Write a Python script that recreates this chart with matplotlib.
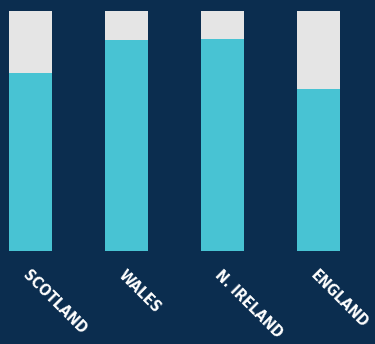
import matplotlib
matplotlib.use("Agg")
import matplotlib.pyplot as plt

countries = ["SCOTLAND", "WALES", "N. IRELAND", "ENGLAND"]
share = [74, 88, 88.3, 67.5]
rest = [100 - s for s in share]

bg = "#0b2d4f"
cyan = "#48c3d3"
grey = "#e5e5e5"

fig = plt.figure(figsize=(3.75, 3.44), dpi=100, facecolor=bg)
ax = fig.add_axes([0, 0.271, 1, 0.697])
ax.set_facecolor(bg)

x = range(len(countries))
ax.bar(x, share, width=0.45, color=cyan)
ax.bar(x, rest, bottom=share, width=0.45, color=grey)

ax.set_xlim(-0.318, 3.588)
ax.set_ylim(0, 100)
ax.set_yticks([])
ax.set_xticks(list(x))
ax.set_xticklabels(countries, rotation=-45, ha="left", va="top",
                   rotation_mode="anchor", color="white",
                   fontsize=11, fontweight="heavy", fontstretch="condensed",
                   family="DejaVu Sans")
ax.tick_params(axis="x", length=0, pad=12)
for s in ax.spines.values():
    s.set_visible(False)

fig.savefig("out.png", facecolor=bg)
